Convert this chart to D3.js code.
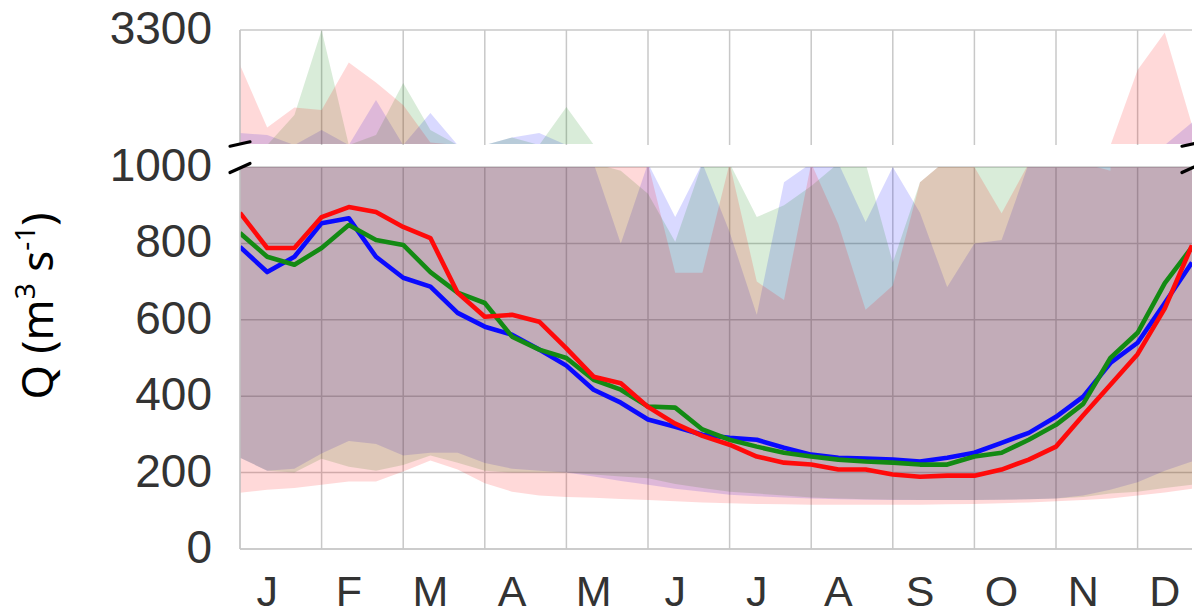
<!DOCTYPE html>
<html>
<head>
<meta charset="utf-8">
<script src="https://cdn.jsdelivr.net/npm/d3@7"></script>
<style>
  body { margin: 0; background: #fff; }
  svg { display: block; }
</style>
</head>
<body>
<svg id="chart" width="1194" height="616"></svg>
<script>
// Month initials for the x axis (three 10-day steps per month)
const months = ["J", "F", "M", "A", "M", "J", "J", "A", "S", "O", "N", "D"];

// Lower-panel y ticks and upper-panel y ticks (broken axis)
const lowTicks = [0, 200, 400, 600, 800, 1000];
const highTicks = [3300];

// Mean discharge per 10-day step (m3/s)
const blueMean  = [791, 725, 765, 853, 866, 765, 710, 687, 618, 582, 561, 522, 480, 417, 383, 339, 320, 299,
                   291, 286, 265, 247, 239, 237, 234, 229, 239, 252, 278, 304, 346, 399, 487, 540, 644, 750];
const greenMean = [827, 765, 744, 788, 848, 809, 796, 725, 671, 644, 556, 522, 500, 443, 417, 373, 370, 313,
                   286, 268, 252, 242, 234, 229, 226, 221, 221, 242, 252, 286, 325, 380, 500, 566, 696, 790];
const redMean   = [880, 788, 788, 869, 895, 882, 843, 814, 671, 608, 613, 595, 525, 451, 434, 372, 328, 296,
                   273, 242, 226, 221, 208, 208, 195, 189, 192, 192, 208, 234, 268, 350, 430, 510, 630, 795];

// Minimum discharge per step
const blueMin  = [239, 205, 210, 250, 283, 275, 245, 252, 252, 225, 210, 205, 200, 190, 178, 168, 158, 150,
                  142, 138, 135, 132, 130, 129, 128, 128, 128, 128, 129, 130, 132, 140, 155, 175, 205, 229];
const greenMin = [239, 205, 200, 236, 215, 205, 220, 245, 226, 205, 200, 200, 200, 195, 190, 185, 170, 160,
                  150, 145, 140, 135, 132, 130, 129, 128, 128, 128, 129, 130, 132, 136, 145, 150, 160, 168];
const redMin   = [147, 155, 160, 168, 177, 177, 203, 232, 208, 172, 150, 140, 136, 134, 131, 128, 125, 122,
                  120, 118, 117, 116, 116, 116, 116, 116, 117, 118, 120, 122, 125, 128, 132, 140, 148, 158];

// Maximum discharge per step
const blueMax  = [1240, 1200, 1000, 1300, 1000, 1900, 1000, 1640, 1000, 1000, 1150, 1240, 1000, 1010, 800, 1010, 869, 1010,
                  830, 613, 960, 1010, 1010, 856, 1000, 880, 686, 800, 809, 1010, 1010, 1010, 1000, 1000, 1000, 1450];
const greenMax = [1000, 1000, 1600, 3300, 1000, 1200, 2240, 1300, 1000, 1000, 1150, 1000, 1760, 1010, 990, 930, 804, 1010,
                  1010, 869, 900, 950, 1010, 1010, 750, 960, 1020, 1010, 1010, 1010, 1010, 1010, 1000, 1000, 1000, 1000];
const redMax   = [2600, 1350, 1750, 1700, 2650, 2250, 1800, 1050, 1000, 1000, 1000, 1000, 1000, 1010, 1010, 1010, 723, 723,
                  1010, 700, 652, 1010, 850, 626, 690, 960, 1020, 1000, 879, 1010, 1010, 1010, 990, 2500, 3250, 1400];

const series = [
  { color: "#0000ff", line: "#0a0aff", mean: blueMean,  min: blueMin,  max: blueMax },
  { color: "#008000", line: "#138a13", mean: greenMean, min: greenMin, max: greenMax },
  { color: "#ff0000", line: "#ff0a0a", mean: redMean,   min: redMin,   max: redMax }
];

const svg = d3.select("#chart");
const left = 240, right = 1192;

const x = d3.scaleLinear().domain([0, blueMean.length - 1]).range([left, right]);
const yLow = d3.scaleLinear().domain([0, 1000]).range([549, 167]);
const yHigh = d3.scaleLinear().domain([1000, 3300]).range([145, 30]);

// The upper panel's band clip stops just above the break so values
// sitting right at the break do not leave slivers.
const panels = [
  { id: "low",  y: yLow,  top: 167, bottom: 549, clipBottom: 549 },
  { id: "high", y: yHigh, top: 30,  bottom: 145, clipBottom: 144 }
];

const defs = svg.append("defs");
panels.forEach(p => {
  defs.append("clipPath").attr("id", "clip-" + p.id)
    .append("rect")
    .attr("x", left).attr("y", p.top)
    .attr("width", right - left).attr("height", p.clipBottom - p.top);
});

const gridColor = "#c8c8c8";
const monthStarts = months.map((m, k) => k * 3);

// Grid (drawn beneath the translucent bands)
panels.forEach(p => {
  const g = svg.append("g").attr("class", "grid-" + p.id);
  g.selectAll("line.v").data(monthStarts).join("line")
    .attr("x1", d => x(d)).attr("x2", d => x(d))
    .attr("y1", p.top).attr("y2", p.bottom)
    .attr("stroke", gridColor).attr("stroke-width", 1.5);
});
svg.append("g").selectAll("line").data(lowTicks).join("line")
  .attr("x1", left).attr("x2", right)
  .attr("y1", d => yLow(d)).attr("y2", d => yLow(d))
  .attr("stroke", gridColor).attr("stroke-width", 1.5);
svg.append("g").selectAll("line").data(highTicks).join("line")
  .attr("x1", left).attr("x2", right)
  .attr("y1", d => yHigh(d)).attr("y2", d => yHigh(d))
  .attr("stroke", gridColor).attr("stroke-width", 1.5);

// Min–max bands in both panels
panels.forEach(p => {
  const g = svg.append("g").attr("clip-path", `url(#clip-${p.id})`);
  series.forEach(s => {
    const area = d3.area()
      .x((d, i) => x(i))
      .y0((d, i) => p.y(s.min[i]))
      .y1((d, i) => p.y(s.max[i]));
    g.append("path")
      .datum(s.mean)
      .attr("d", area)
      .attr("fill", s.color)
      .attr("fill-opacity", 0.15)
      .attr("stroke", "none");
  });
});

// Mean lines (lower panel)
const lineG = svg.append("g").attr("clip-path", "url(#clip-low)");
series.forEach(s => {
  const line = d3.line().x((d, i) => x(i)).y(d => yLow(d));
  lineG.append("path")
    .datum(s.mean)
    .attr("d", line)
    .attr("fill", "none")
    .attr("stroke", s.line)
    .attr("stroke-width", 4.6)
    .attr("stroke-linejoin", "round")
    .attr("stroke-linecap", "butt");
});

// Spines
const spine = (x1, y1, x2, y2) => svg.append("line")
  .attr("x1", x1).attr("y1", y1).attr("x2", x2).attr("y2", y2)
  .attr("stroke", gridColor).attr("stroke-width", 1.5);
spine(left, 167, left, 549);
spine(left, 549, right, 549);
spine(left, 30, left, 145);

// Break marks
const brk = svg.append("g").attr("stroke", "#000").attr("stroke-width", 3.2).attr("stroke-linecap", "round");
[[left, 144, 10, 2.2], [left, 168, 10, 4.5], [right, 144, 10, 2.2], [right, 168, 10, 4.5]].forEach(([cx, cy, dx, dy]) => {
  brk.append("line")
    .attr("x1", cx - dx).attr("y1", cy + dy)
    .attr("x2", cx + dx).attr("y2", cy - dy);
});

// Tick labels
const tickFont = "'Liberation Sans', Arial, sans-serif";
const yAxisLabels = svg.append("g")
  .attr("font-family", tickFont).attr("font-size", 46).attr("fill", "#333")
  .attr("text-anchor", "end");
yAxisLabels.selectAll("text.low").data(lowTicks).join("text")
  .attr("x", 212).attr("y", d => yLow(d) - 2)
  .attr("dominant-baseline", "central")
  .text(d => d);
yAxisLabels.selectAll("text.high").data(highTicks).join("text")
  .attr("class", "high")
  .attr("x", 212).attr("y", d => yHigh(d) - 2)
  .attr("dominant-baseline", "central")
  .text(d => d);

svg.append("g")
  .attr("font-family", tickFont).attr("font-size", 43).attr("fill", "#333")
  .attr("text-anchor", "middle")
  .selectAll("text").data(months).join("text")
  .attr("x", (d, k) => x(k * 3 + 1))
  .attr("y", 606)
  .text(d => d);

// Axis title with superscripts
const title = svg.append("text")
  .attr("transform", "translate(53,306) rotate(-90)")
  .attr("text-anchor", "middle")
  .attr("font-family", "'Noto Sans', 'Open Sans', sans-serif")
  .attr("font-size", 44)
  .attr("fill", "#000");
title.append("tspan").text("Q (m");
title.append("tspan").attr("font-size", 28).attr("dy", -18).text("3");
title.append("tspan").attr("dy", 18).text(" s");
title.append("tspan").attr("font-size", 28).attr("dy", -18).text("-1");
title.append("tspan").attr("dy", 18).text(")");
</script>
</body>
</html>
